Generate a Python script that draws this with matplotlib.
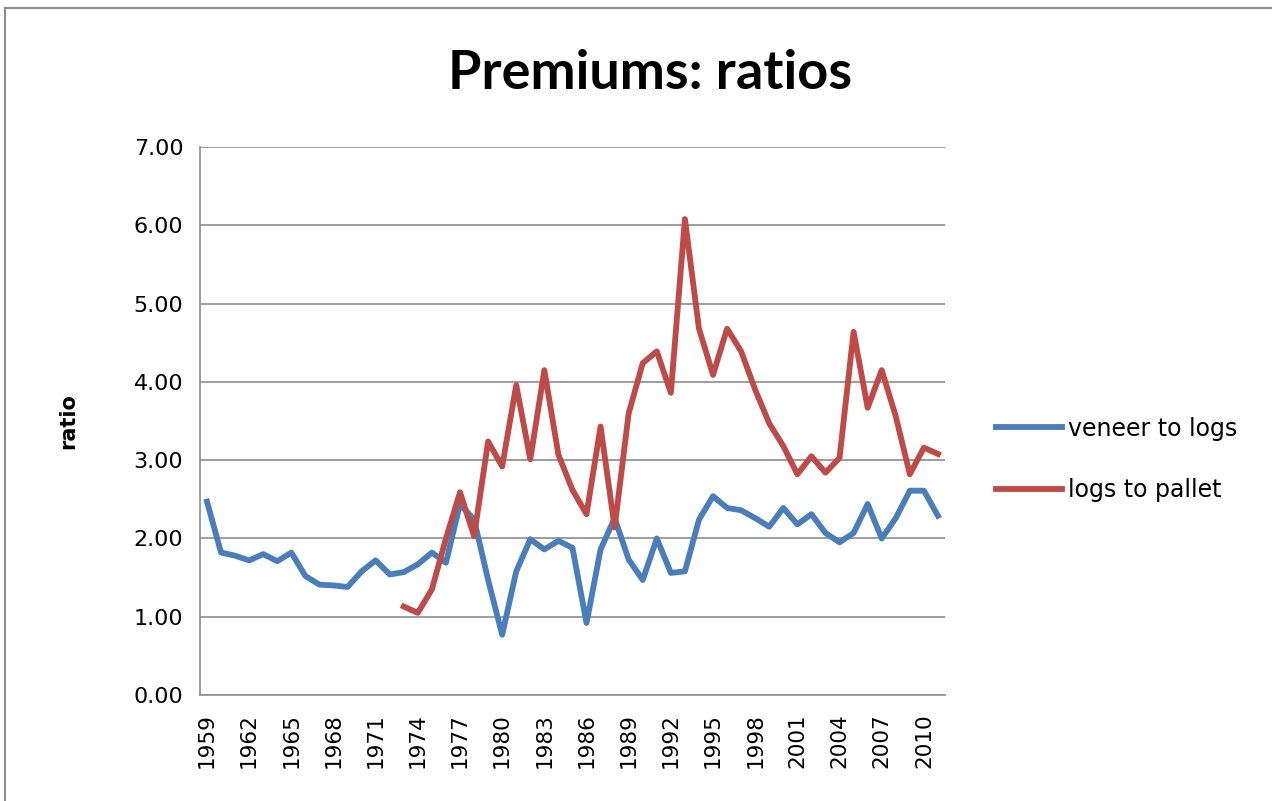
import matplotlib
matplotlib.use("Agg")
import matplotlib.pyplot as plt
from matplotlib.lines import Line2D
import numpy as np

years = list(range(1959, 2012))

veneer_to_logs = [2.47, 1.82, 1.78, 1.72, 1.80, 1.71, 1.82, 1.52, 1.41, 1.40,
                  1.38, 1.58, 1.72, 1.54, 1.57, 1.67, 1.82, 1.69, 2.44, 2.24,
                  1.47, 0.77, 1.58, 1.99, 1.86, 1.97, 1.88, 0.92, 1.86, 2.26,
                  1.73, 1.47, 2.00, 1.56, 1.58, 2.24, 2.54, 2.39, 2.36, 2.26,
                  2.15, 2.39, 2.18, 2.31, 2.07, 1.95, 2.07, 2.44, 2.00, 2.26,
                  2.61, 2.61, 2.29]

# logs to pallet starts in 1973
logs_to_pallet = [None] * 14 + [1.13, 1.05, 1.35, 2.00, 2.59, 2.03, 3.24, 2.92,
                  3.96, 3.01, 4.15, 3.07, 2.62, 2.31, 3.43, 2.14, 3.60, 4.24,
                  4.39, 3.86, 6.08, 4.68, 4.09, 4.68, 4.39, 3.90, 3.47, 3.18,
                  2.82, 3.05, 2.84, 3.03, 4.64, 3.67, 4.15, 3.56, 2.82, 3.16,
                  3.08]

y_ticks = [0, 1, 2, 3, 4, 5, 6, 7]

x = np.arange(len(years))
red = np.array([np.nan if v is None else v for v in logs_to_pallet])

fig = plt.figure(figsize=(12.72, 8.01), dpi=100)
ax = fig.add_axes([0.1572, 0.1323, 0.5857, 0.6841])

ax.plot(x, veneer_to_logs, color="#4A7EBB", lw=4.2, label="veneer to logs",
        solid_joinstyle="round")
ax.plot(x, red, color="#BE4B48", lw=4.2, label="logs to pallet",
        solid_joinstyle="round")

ax.set_xlim(-0.5, len(years) - 0.5)
ax.set_ylim(0, 7)
ax.set_yticks(y_ticks)
ax.set_yticklabels(["%.2f" % v for v in y_ticks], fontsize=16)
ax.set_xticks(x[::3])
ax.set_xticklabels([str(y) for y in years[::3]], rotation=90, fontsize=15.5)
ax.tick_params(axis="y", length=0, pad=12)
ax.tick_params(axis="x", length=0, pad=13)
ax.grid(axis="y", color="#8c8c8c", lw=1.2)
ax.set_axisbelow(True)
for s in ["top", "right"]:
    ax.spines[s].set_visible(False)
for s in ["left", "bottom"]:
    ax.spines[s].set_color("#8c8c8c")
    ax.spines[s].set_linewidth(1.2)

ax.set_ylabel("ratio", fontsize=15, fontweight="bold", labelpad=40)
fig.text(0.511, 0.908, "Premiums: ratios", ha="center", va="center",
         fontsize=39, fontweight="bold", family="Lato")

ax.legend(loc="center left", bbox_to_anchor=(1.04, 0.43), frameon=False,
          fontsize=17, handlelength=2.8, labelspacing=1.6, handletextpad=0.25)

# outer chart border
fig.add_artist(Line2D([0.004, 1.0], [0.99, 0.99], color="#8c8c8c", lw=1.5))
fig.add_artist(Line2D([0.004, 0.004], [0.0, 0.99], color="#8c8c8c", lw=1.5))

fig.savefig("out.png", dpi=100)
